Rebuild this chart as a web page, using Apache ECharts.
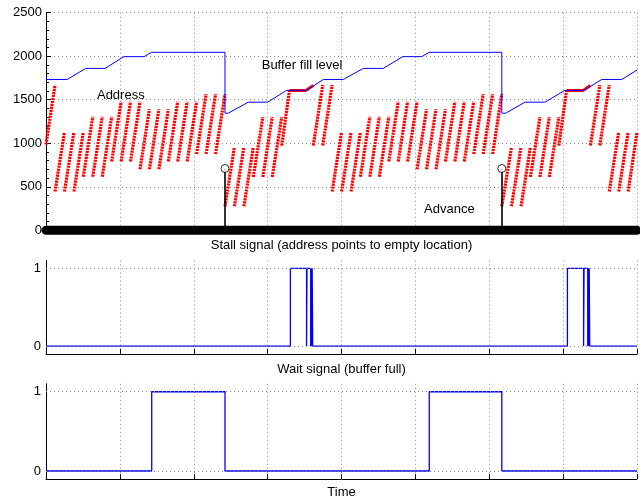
<!DOCTYPE html>
<html>
<head>
<meta charset="utf-8">
<script src="https://cdn.jsdelivr.net/npm/echarts@6/dist/echarts.min.js"></script>
<style>
  html, body { margin: 0; padding: 0; background: #fff; }
  #chart { width: 640px; height: 500px; }
</style>
</head>
<body>
<div id="chart"></div>
<script>
// ---- data ----
const timeRange = [0, 800];
const timeStep = 100;
const addressAxis = { min: 0, max: 2500, step: 500 };
const signalAxis = { min: -0.1, max: 1.1, step: 0.1 };

// buffer fill level: [time, level]
const bufferLevel = [
  [0, 1733], [28.8, 1733], [53.7, 1860], [79.9, 1860], [105.6, 1995], [132.7, 1995],
  [143.1, 2045], [242.3, 2045], [242.3, 1345], [246.7, 1345], [273.8, 1472], [300.1, 1472],
  [325.8, 1608], [352.9, 1608], [375.4, 1733], [402.4, 1733], [429.5, 1860], [456.6, 1860],
  [482.8, 1995], [508.6, 1995], [518.8, 2045], [617.0, 2045], [617.0, 1345], [622.2, 1345],
  [648.4, 1472], [675.4, 1472], [702.5, 1608], [728.6, 1608], [752.2, 1733], [779.3, 1733],
  [800, 1840]
];

// address sweeps: [start time, end time, start address, end address]
const addressSweeps = [
  [0, 12.2, 985, 1668],
  [12.2, 25.0, 445, 1126], [25.0, 37.8, 445, 1126], [37.8, 50.5, 445, 1126],
  [50.5, 63.3, 616, 1305], [63.3, 76.1, 616, 1305], [76.1, 88.9, 616, 1305],
  [88.9, 101.7, 790, 1478], [101.7, 114.4, 790, 1478], [114.4, 127.2, 790, 1478],
  [127.2, 140.0, 700, 1390], [140.0, 152.8, 700, 1390], [152.8, 165.6, 700, 1390],
  [165.6, 178.3, 790, 1478], [178.3, 191.1, 790, 1478], [191.1, 203.9, 790, 1478],
  [203.9, 216.7, 876, 1566], [216.7, 229.5, 876, 1566], [229.5, 242.3, 876, 1566],
  [242.3, 255.0, 275, 955], [255.0, 267.9, 275, 955], [267.9, 280.6, 275, 955],
  [280.6, 293.5, 612, 1302], [293.5, 306.2, 612, 1302], [306.2, 319.1, 612, 1302],
  [319.1, 329.6, 973, 1608],
  [361.8, 374.6, 975, 1668], [374.6, 387.3, 975, 1668],
  [387.3, 400.1, 445, 1126], [400.1, 412.9, 445, 1126], [412.9, 425.6, 445, 1126],
  [425.6, 438.4, 616, 1305], [438.4, 451.2, 616, 1305], [451.2, 464.0, 616, 1305],
  [464.0, 476.8, 790, 1478], [476.8, 489.5, 790, 1478], [489.5, 502.3, 790, 1478],
  [502.3, 515.1, 700, 1390], [515.1, 527.9, 700, 1390], [527.9, 540.7, 700, 1390],
  [540.7, 553.5, 790, 1478], [553.5, 566.2, 790, 1478], [566.2, 579.0, 790, 1478],
  [579.0, 591.8, 876, 1566], [591.8, 604.6, 876, 1566], [604.6, 617.0, 876, 1566],
  [617.0, 630.1, 275, 955], [630.1, 643.0, 275, 955], [643.0, 655.7, 275, 955],
  [655.7, 668.6, 612, 1302], [668.6, 681.3, 612, 1302], [681.3, 694.2, 612, 1302],
  [694.2, 704.7, 973, 1608],
  [736.9, 749.7, 975, 1668], [749.7, 762.4, 975, 1668],
  [762.4, 775.2, 445, 1126], [775.2, 788.0, 445, 1126], [788.0, 800, 445, 1126]
];

// address held while stalled, then the slow catch-up: [t0, t1, a0, a1]
const addressHold = [
  [329.6, 352.9, 1608, 1608], [352.9, 361.8, 1612, 1665],
  [704.7, 728.0, 1608, 1608], [728.0, 736.9, 1612, 1665]
];

// advance pulses
const advanceTimes = [242.3, 617.0];
const advanceValues = [710, 710];

// stall and wait signals: [time, level], level held until the next time
const stallSignal = [
  [0, 0], [330.8, 1], [352.7, 0], [353.3, 1], [358.3, 0], [359.0, 1], [359.7, 0], [360.3, 1], [361.0, 0],
  [705.8, 1], [727.7, 0], [728.3, 1], [733.3, 0], [734.0, 1], [734.7, 0], [735.3, 1], [736.0, 0],
  [800, 0]
];
const waitSignal = [[0, 0], [143.1, 1], [242.3, 0], [518.8, 1], [617.0, 0], [800, 0]];

// text annotations in the top panel: [label, time, address]
const notes = [
  ['Address', 69, 1554],
  ['Buffer fill level', 292, 1899],
  ['Advance', 511.7, 245]
];
const panelTitles = ['Stall signal (address points to empty location)', 'Wait signal (buffer full)'];
const timeLabel = 'Time';

// ---- chart ----
const FONT = '"Liberation Sans", Arial, Helvetica, sans-serif';
const gridDot = { color: '#8a8a8a', width: 1, type: [1, 3] };
const PLOT_LEFT = 46, PLOT_WIDTH = 591;

const grids = [
  { left: PLOT_LEFT, top: 12.7, width: PLOT_WIDTH, height: 217.6 },
  { left: PLOT_LEFT, top: 260.5, width: PLOT_WIDTH, height: 93.3 },
  { left: PLOT_LEFT, top: 383.8, width: PLOT_WIDTH, height: 95.1 }
];

const xAxes = grids.map((g, i) => ({
  type: 'value', gridIndex: i, min: timeRange[0], max: timeRange[1], interval: timeStep,
  axisLabel: { show: false },
  axisLine: { show: i > 0, onZero: false, lineStyle: { color: '#000', width: 1 } },
  axisTick: { show: i > 0, inside: true, length: 5, lineStyle: { color: '#000' } },
  splitLine: { show: true, lineStyle: gridDot }
}));

const signalLabel = v => (Math.abs(v) < 1e-6 ? '0' : (Math.abs(v - 1) < 1e-6 ? '1' : ''));
const yAxes = [
  {
    type: 'value', gridIndex: 0, min: addressAxis.min, max: addressAxis.max, interval: addressAxis.step,
    axisLabel: { color: '#000', fontSize: 13, fontFamily: FONT, margin: 4, formatter: v => String(v) },
    axisLine: { show: true, onZero: false, lineStyle: { color: '#000' } },
    axisTick: { show: true, inside: true, length: 5, lineStyle: { color: '#000' } },
    minorTick: { show: true, splitNumber: 5, length: 3, lineStyle: { color: '#000' } },
    splitLine: { show: true, lineStyle: gridDot }
  },
  ...[1, 2].map(i => ({
    type: 'value', gridIndex: i, min: signalAxis.min, max: signalAxis.max, interval: signalAxis.step,
    axisLabel: { color: '#000', fontSize: 13, fontFamily: FONT, margin: 5, formatter: signalLabel },
    axisLine: { show: true, onZero: false, lineStyle: { color: '#000' } },
    axisTick: { show: false },
    splitLine: { show: false }
  }))
];

const segs = list => list.map(s => ({ coords: [[s[0], s[2]], [s[1], s[3]]] }));

const series = [
  {
    name: 'address', type: 'lines', coordinateSystem: 'cartesian2d', xAxisIndex: 0, yAxisIndex: 0,
    polyline: false, silent: true, z: 2,
    lineStyle: { color: '#ff0000', width: 3.2, type: [2.2, 0.8], opacity: 1, cap: 'butt' },
    data: segs(addressSweeps)
  },
  {
    name: 'address hold', type: 'lines', coordinateSystem: 'cartesian2d', xAxisIndex: 0, yAxisIndex: 0,
    polyline: false, silent: true, z: 2,
    lineStyle: { color: '#ff0000', width: 3, type: 'solid', opacity: 1 },
    data: segs(addressHold)
  },
  {
    name: 'buffer', type: 'line', xAxisIndex: 0, yAxisIndex: 0, symbol: 'none', z: 3,
    itemStyle: { color: '#0000ff' }, lineStyle: { color: '#0000ff', width: 1 },
    data: bufferLevel
  },
  {
    name: 'advance baseline', type: 'line', xAxisIndex: 0, yAxisIndex: 0, symbol: 'none', clip: false, z: 4,
    itemStyle: { color: '#000' }, lineStyle: { color: '#000', width: 9, cap: 'round' },
    data: timeRange.map(t => [t, 0])
  },
  {
    name: 'advance', type: 'lines', coordinateSystem: 'cartesian2d', xAxisIndex: 0, yAxisIndex: 0,
    polyline: false, silent: true, z: 4,
    lineStyle: { color: '#000', width: 1.6, opacity: 1 },
    data: advanceTimes.map((t, i) => ({ coords: [[t, 0], [t, advanceValues[i]]] }))
  },
  {
    name: 'advance head', type: 'scatter', xAxisIndex: 0, yAxisIndex: 0, symbol: 'circle', symbolSize: 8, z: 5,
    itemStyle: { color: '#fff', borderColor: '#000', borderWidth: 1 },
    data: advanceTimes.map((t, i) => [t, advanceValues[i]])
  },
  {
    name: 'stall grid', type: 'line', xAxisIndex: 1, yAxisIndex: 1, data: [], z: 1,
    markLine: { silent: true, symbol: 'none', label: { show: false }, lineStyle: gridDot,
      data: [{ yAxis: 0 }, { yAxis: 1 }] }
  },
  {
    name: 'wait grid', type: 'line', xAxisIndex: 2, yAxisIndex: 2, data: [], z: 1,
    markLine: { silent: true, symbol: 'none', label: { show: false }, lineStyle: gridDot,
      data: [{ yAxis: 0 }, { yAxis: 1 }] }
  },
  {
    name: 'stall', type: 'line', xAxisIndex: 1, yAxisIndex: 1, step: 'end', symbol: 'none', z: 3,
    itemStyle: { color: '#0000ff' }, lineStyle: { color: '#0000ff', width: 1.3 },
    data: stallSignal
  },
  {
    name: 'wait', type: 'line', xAxisIndex: 2, yAxisIndex: 2, step: 'end', symbol: 'none', z: 3,
    itemStyle: { color: '#0000ff' }, lineStyle: { color: '#0000ff', width: 1.3 },
    data: waitSignal
  }
];

const chart = echarts.init(document.getElementById('chart'), null, { renderer: 'canvas' });
chart.setOption({
  animation: false,
  backgroundColor: '#fff',
  grid: grids,
  xAxis: xAxes,
  yAxis: yAxes,
  series: series
});

// titles and annotations
const centerX = PLOT_LEFT + PLOT_WIDTH / 2;
const textEl = (text, x, y, align) => ({
  type: 'text', x: x, y: y, z: 10, silent: true,
  style: { text: text, fill: '#000', font: '13px ' + FONT, textAlign: align,
    textVerticalAlign: 'middle', verticalAlign: 'middle' }
});
const graphics = [
  textEl(panelTitles[0], centerX, 245, 'center'),
  textEl(panelTitles[1], centerX, 369, 'center'),
  textEl(timeLabel, centerX, 492, 'center')
];
notes.forEach(n => {
  const p = chart.convertToPixel({ gridIndex: 0 }, [n[1], n[2]]);
  graphics.push(textEl(n[0], p[0], p[1], 'left'));
});
chart.setOption({ graphic: graphics });
</script>
</body>
</html>
